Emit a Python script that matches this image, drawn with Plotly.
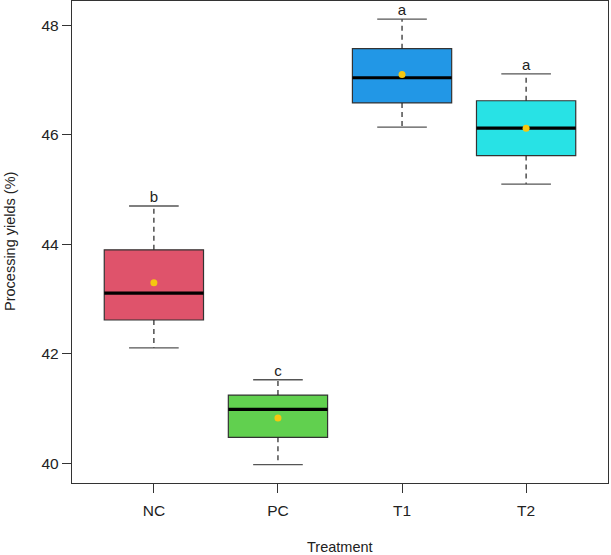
import plotly.graph_objects as go

categories = ["NC", "PC", "T1", "T2"]
lower_whisker = [42.11, 39.98, 46.14, 45.10]
q1 = [42.62, 40.48, 46.58, 45.62]
median = [43.11, 40.99, 47.04, 46.12]
q3 = [43.90, 41.25, 47.57, 46.62]
upper_whisker = [44.70, 41.53, 48.11, 47.11]
means = [43.30, 40.83, 47.10, 46.12]
letters = ["b", "c", "a", "a"]
colors = ["#DF536B", "#61D04F", "#2297E6", "#28E2E5"]

pos = list(range(1, len(categories) + 1))
half_box = 0.4
half_cap = 0.2

fig = go.Figure()

# boxes as bars from q1 to q3
fig.add_trace(go.Bar(
    x=pos, y=[b - a for a, b in zip(q1, q3)], base=q1, width=2 * half_box,
    marker=dict(color=colors, line=dict(color="#333333", width=1.2)),
    hoverinfo="skip", showlegend=False))

for i, p in enumerate(pos):
    # whiskers (dashed)
    fig.add_trace(go.Scatter(x=[p, p], y=[q3[i], upper_whisker[i]], mode="lines",
                             line=dict(color="#222222", width=1.2, dash="5px,4px"),
                             showlegend=False, hoverinfo="skip"))
    fig.add_trace(go.Scatter(x=[p, p], y=[q1[i], lower_whisker[i]], mode="lines",
                             line=dict(color="#222222", width=1.2, dash="5px,4px"),
                             showlegend=False, hoverinfo="skip"))
    # caps
    for w in (upper_whisker[i], lower_whisker[i]):
        fig.add_trace(go.Scatter(x=[p - half_cap, p + half_cap], y=[w, w], mode="lines",
                                 line=dict(color="#555555", width=1.3),
                                 showlegend=False, hoverinfo="skip"))
    # median
    fig.add_trace(go.Scatter(x=[p - half_box, p + half_box], y=[median[i], median[i]], mode="lines",
                             line=dict(color="#000000", width=3.2),
                             showlegend=False, hoverinfo="skip"))

# means
fig.add_trace(go.Scatter(x=pos, y=means, mode="markers",
                         marker=dict(color="#F5C710", size=7),
                         showlegend=False, hoverinfo="skip"))

# letters
fig.add_trace(go.Scatter(x=pos, y=upper_whisker, mode="text", text=letters,
                         textposition="top center",
                         textfont=dict(family="Liberation Sans, Arial", size=15, color="#222222"),
                         showlegend=False, hoverinfo="skip"))

fig.update_layout(
    width=611, height=555,
    margin=dict(l=72, r=3, t=1, b=72),
    plot_bgcolor="white", paper_bgcolor="white",
    font=dict(family="Liberation Sans, Arial", size=15, color="#222222"),
    xaxis=dict(range=[0.34, 4.66], tickvals=pos, ticktext=categories,
               showgrid=False, zeroline=False, showline=True, mirror=True,
               linecolor="#333333", linewidth=1.3, ticks="outside", ticklen=9,
               tickcolor="#333333", tickfont=dict(size=15.5), ticklabelstandoff=4),
    yaxis=dict(range=[39.646, 48.44], tickvals=[40, 42, 44, 46, 48],
               showgrid=False, zeroline=False, showline=True, mirror=True,
               linecolor="#333333", linewidth=1.3, ticks="outside", ticklen=9,
               tickcolor="#333333", tickfont=dict(size=15.5)),
    annotations=[
        dict(text="Treatment", xref="paper", yref="paper", x=0.5, y=0,
             xanchor="center", yanchor="middle", yshift=-64, showarrow=False,
             font=dict(size=14.5)),
        dict(text="Processing yields (%)", xref="paper", yref="paper", x=0, y=0.5,
             xanchor="center", yanchor="middle", xshift=-62, textangle=-90,
             showarrow=False, font=dict(size=14.5)),
    ],
)

fig.write_html("out.html", config={"displayModeBar": False},
               post_script="document.body.style.margin='0';document.body.style.overflow='hidden';")
